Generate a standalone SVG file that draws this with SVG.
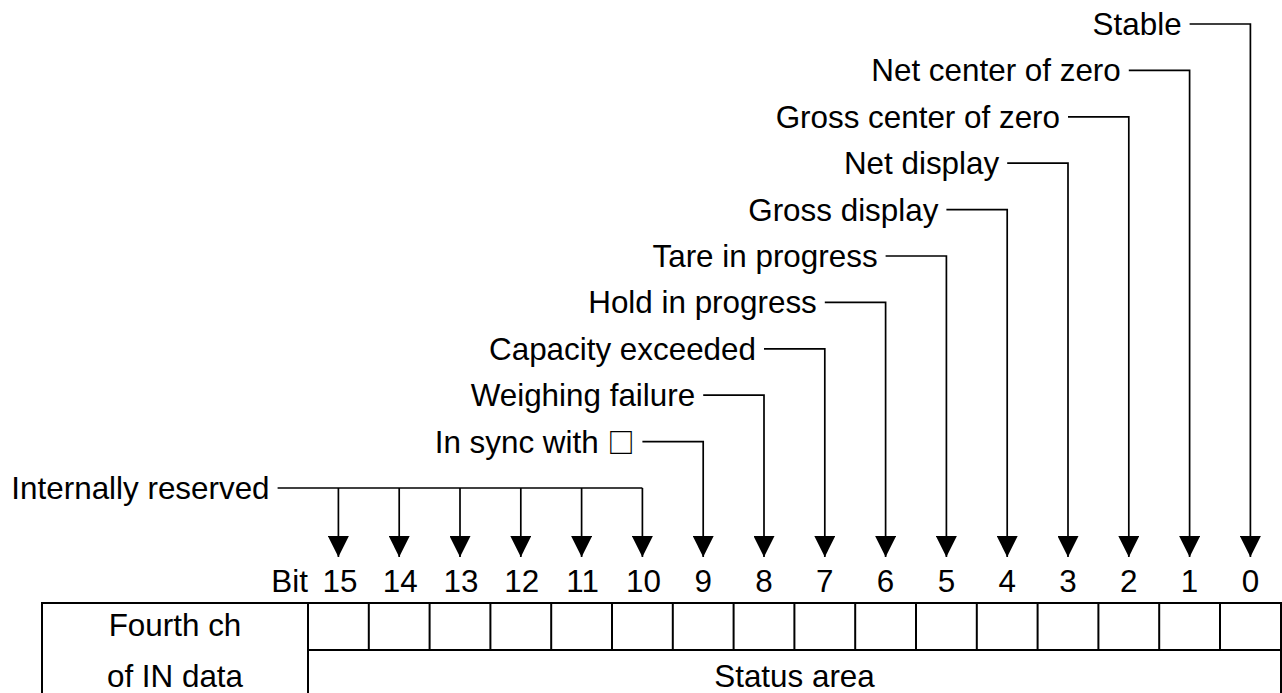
<svg xmlns="http://www.w3.org/2000/svg" width="1282" height="693" viewBox="0 0 1282 693">
<style>
text{font-family:"Liberation Sans",Arial,sans-serif;font-size:31.4px;fill:#000}
.lbl{text-anchor:end}
.num{text-anchor:middle}
.ld{fill:none;stroke:#000;stroke-width:1.7}
.tb{fill:none;stroke:#000;stroke-width:2}
.sq{font-family:"Noto Sans CJK JP","DejaVu Sans",sans-serif;font-size:27px;font-weight:bold}
</style>
<defs>
<marker id="ah" markerUnits="userSpaceOnUse" markerWidth="21" markerHeight="21" viewBox="0 0 20 20" refX="20" refY="10" orient="auto">
<path d="M0,0 L20,10 L0,20 z" fill="#000"/>
</marker>
</defs>
<rect width="1282" height="693" fill="#fff"/>
<g id="connectors">
<path class="ld" d="M1189.6,24 H1250.4 V557" marker-end="url(#ah)"/>
<path class="ld" d="M1128.8,70.4 H1189.6 V557" marker-end="url(#ah)"/>
<path class="ld" d="M1068,116.8 H1128.8 V557" marker-end="url(#ah)"/>
<path class="ld" d="M1007.2,163.2 H1068 V557" marker-end="url(#ah)"/>
<path class="ld" d="M946.4,209.6 H1007.2 V557" marker-end="url(#ah)"/>
<path class="ld" d="M885.6,256 H946.4 V557" marker-end="url(#ah)"/>
<path class="ld" d="M824.8,302.4 H885.6 V557" marker-end="url(#ah)"/>
<path class="ld" d="M764,348.8 H824.8 V557" marker-end="url(#ah)"/>
<path class="ld" d="M703.2,395.2 H764 V557" marker-end="url(#ah)"/>
<path class="ld" d="M642.4,441.6 H703.2 V557" marker-end="url(#ah)"/>
<path class="ld" d="M277.6,488 H642.4"/>
<path class="ld" d="M338.4,488 V557" marker-end="url(#ah)"/>
<path class="ld" d="M399.2,488 V557" marker-end="url(#ah)"/>
<path class="ld" d="M460,488 V557" marker-end="url(#ah)"/>
<path class="ld" d="M520.8,488 V557" marker-end="url(#ah)"/>
<path class="ld" d="M581.6,488 V557" marker-end="url(#ah)"/>
<path class="ld" d="M642.4,488 V557" marker-end="url(#ah)"/>
</g>
<g id="labels">
<text class="lbl" x="1181.6" y="35">Stable</text>
<text class="lbl" x="1120.8" y="81.4">Net center of zero</text>
<text class="lbl" x="1060" y="127.8">Gross center of zero</text>
<text class="lbl" x="999.2" y="174.2">Net display</text>
<text class="lbl" x="938.4" y="220.6">Gross display</text>
<text class="lbl" x="877.6" y="267">Tare in progress</text>
<text class="lbl" x="816.8" y="313.4">Hold in progress</text>
<text class="lbl" x="756" y="359.8">Capacity exceeded</text>
<text class="lbl" x="695.2" y="406.2">Weighing failure</text>
<text class="lbl" x="634.4" y="452.6">In sync with <tspan class="sq">□</tspan></text>
<text class="lbl" x="269.6" y="499">Internally reserved</text>
</g>
<g id="bits">
<text class="lbl" x="308" y="592">Bit</text>
<text class="num" x="340" y="592">15</text>
<text class="num" x="400.2" y="592">14</text>
<text class="num" x="461" y="592">13</text>
<text class="num" x="521.8" y="592">12</text>
<text class="num" x="582.6" y="592">11</text>
<text class="num" x="643.4" y="592">10</text>
<text class="num" x="703.2" y="592">9</text>
<text class="num" x="764" y="592">8</text>
<text class="num" x="824.8" y="592">7</text>
<text class="num" x="885.6" y="592">6</text>
<text class="num" x="946.4" y="592">5</text>
<text class="num" x="1007.2" y="592">4</text>
<text class="num" x="1068" y="592">3</text>
<text class="num" x="1128.8" y="592">2</text>
<text class="num" x="1189.6" y="592">1</text>
<text class="num" x="1250.4" y="592">0</text>
</g>
<g id="table">
<rect class="tb" x="42" y="603" width="1239" height="110"/>
<path class="tb" d="M308,603 V713 M308,650 H1281 M368.8,603 V650 M429.6,603 V650 M490.4,603 V650 M551.2,603 V650 M612,603 V650 M672.8,603 V650 M733.6,603 V650 M794.4,603 V650 M855.2,603 V650 M916,603 V650 M976.8,603 V650 M1037.6,603 V650 M1098.4,603 V650 M1159.2,603 V650 M1220,603 V650"/>
<text class="num" x="175" y="636">Fourth ch</text>
<text class="num" x="175" y="687">of IN data</text>
<text class="num" x="794.5" y="687">Status area</text>
</g>
</svg>
